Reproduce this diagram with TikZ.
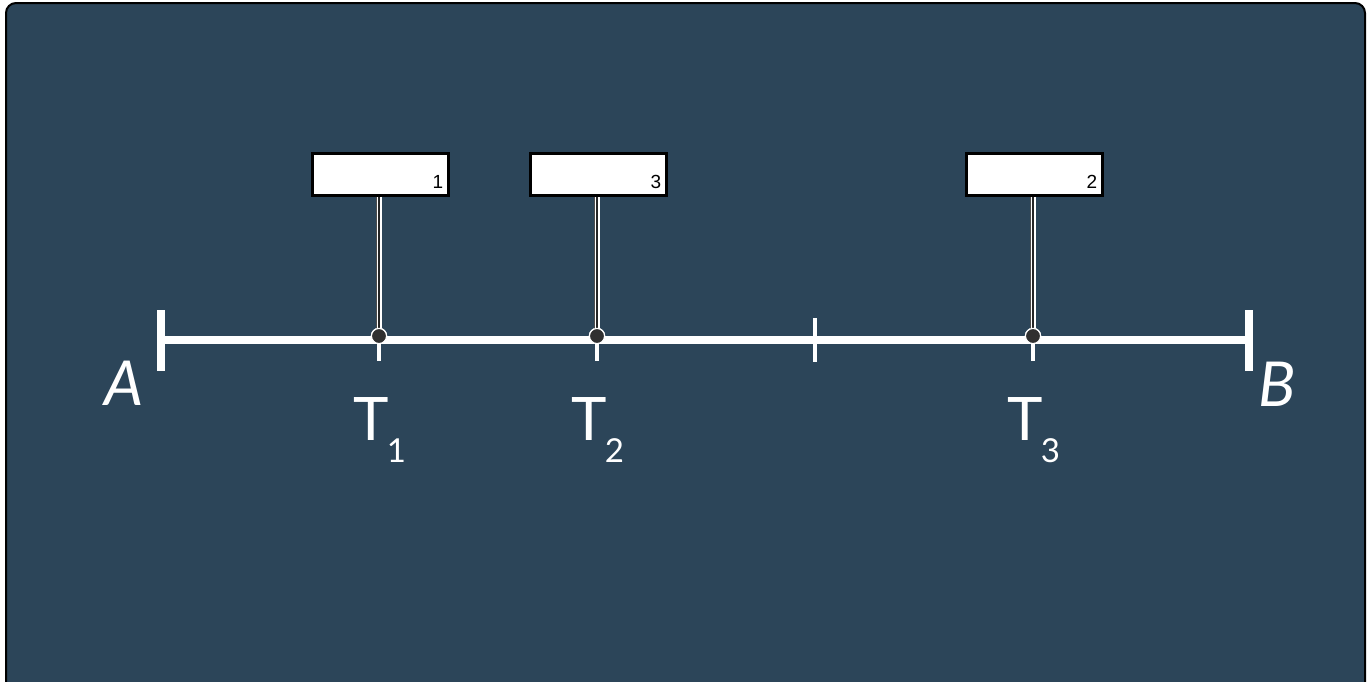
\documentclass[tikz,border=0pt]{standalone}
\usepackage{fontspec}
\newfontfamily\labelfont{Lato}
\newfontfamily\numfont{Liberation Sans}
\definecolor{slate}{HTML}{2C4559}
\definecolor{pinhead}{HTML}{303030}

\begin{document}
\begin{tikzpicture}[x=0.5pt,y=-0.5pt,
    endbar/.style={white,line width=4.2pt},
    tickmark/.style={white,line width=1.7pt},
    slotbox/.style={draw=black,fill=white,line width=1.65pt,minimum width=67.8pt,minimum height=20.8pt,inner sep=0pt},
    slotnum/.style={font=\numfont\fontsize{9.5}{9.5}\selectfont,inner sep=0pt,anchor=base east},
    pin/.style={draw=black!70,line width=2.9pt},
    pincore/.style={draw=white,double=black!85,double distance=0.8pt,line width=0.85pt},
    pinhead/.style={circle,fill=pinhead,draw=white,line width=0.6pt,minimum size=7.6pt,inner sep=0pt},
    endlabel/.style={font=\labelfont\itshape\fontsize{31}{31}\selectfont,text=white,inner sep=0pt,anchor=base west},
    tlabel/.style={font=\labelfont\fontsize{30}{30}\selectfont,text=white,inner sep=0pt,anchor=base west}]
    \useasboundingbox (0,0) rectangle (1372,681);
    \clip (0,0) rectangle (1372,681);
    % background panel
    \draw[fill=slate,draw=black,line width=1pt,rounded corners=5pt] (6,3) rectangle (1365,720);
    % segment from A to B
    \coordinate (A) at (161,340);
    \coordinate (B) at (1249,340);
    \draw[white,line width=4.4pt] (A) -- (B);
    \draw[endbar] (A) ++(0,-30) -- ++(0,61);
    \draw[endbar] (B) ++(0,-30) -- ++(0,61);
    \node[endlabel] (labA) at (104,405) {A};
    \node[endlabel] (labB) at (1258,406) {B};
    % middle mark
    \coordinate (M) at (815,340);
    \draw[tickmark] (M) ++(0,-22) -- ++(0,44);
    % points T with their boxes
    \foreach \x/\n/\k in {379/1/1, 597/2/3, 1033/3/2} {
        \coordinate (t\n) at (\x,340);
        \draw[tickmark] (t\n) -- ++(0,21);
        \node[slotbox] (box\n) at (\x+1.5,174.5) {};
        \node[slotnum] (num\n) at (\x+64.5,188.5) {\k};
        \node[pinhead] (dot\n) at (\x,336) {};
        \draw[pin] (dot\n |- box\n.south) -- (dot\n.center);
        \draw[pincore] (dot\n |- box\n.south) -- (dot\n.center);
        \node[pinhead] at (dot\n) {};
        \node[tlabel] (lab\n) at (\x-26,440) {T\kern-1pt\raisebox{-11pt}{\fontsize{16.5}{16.5}\selectfont\n}};
    }
\end{tikzpicture}
\end{document}
